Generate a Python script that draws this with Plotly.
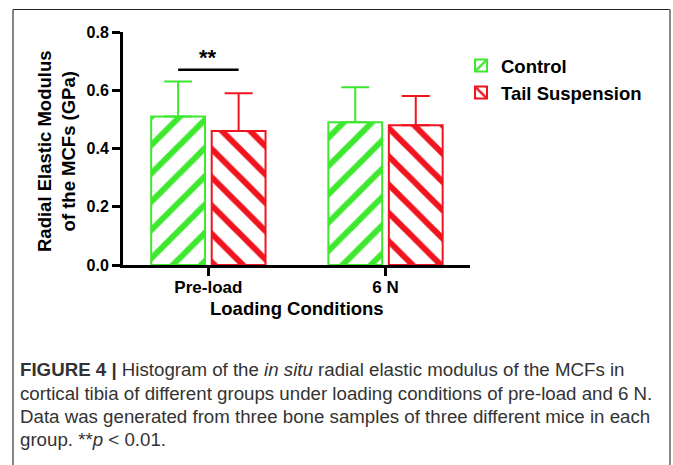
import plotly.graph_objects as go

# ---- data ----
categories = ["Pre-load", "6 N"]
series_names = ["Control", "Tail Suspension"]
control_mean = [0.51, 0.49]
control_err = [0.12, 0.12]
tail_mean = [0.46, 0.48]
tail_err = [0.13, 0.10]
y_ticks = [0.0, 0.2, 0.4, 0.6, 0.8]
sig_label = "**"
sig_y = 0.67

GREEN = "#3EE82E"
RED = "#F0141E"
FONT = "Liberation Sans, Arial, sans-serif"

# plot-area pixel geometry (673x465 canvas)
L, R, T, B = 123, 470, 32, 265
W, H = 673, 465
pw, ph = R - L, B - T

def px(x):
    return (x - L) / pw

def py(y):
    return (B - y) / ph

fig = go.Figure()
fig.add_trace(go.Bar(
    name=series_names[0], x=categories, y=control_mean, legendgroup="c",
    marker=dict(color="white", line=dict(color=GREEN, width=2),
                pattern=dict(shape="/", fgcolor=GREEN, bgcolor="white",
                             size=20, solidity=0.3, fillmode="replace")),
    error_y=dict(type="data", symmetric=False, array=control_err,
                 arrayminus=[0] * len(control_err), color=GREEN,
                 thickness=2, width=14),
))
fig.add_trace(go.Bar(
    name=series_names[1], x=categories, y=tail_mean, legendgroup="t",
    marker=dict(color="white", line=dict(color=RED, width=2),
                pattern=dict(shape="\\", fgcolor=RED, bgcolor="white",
                             size=20, solidity=0.3, fillmode="replace")),
    error_y=dict(type="data", symmetric=False, array=tail_err,
                 arrayminus=[0] * len(tail_err), color=RED,
                 thickness=2, width=14),
))

bargap = 0.317
slot = (1 - bargap) / 2
off = slot / 2

shapes = [
    # significance bar between the two pre-load bars
    dict(type="line", xref="x", yref="y", x0=0 - off, x1=0 + off,
         y0=sig_y, y1=sig_y, line=dict(color="black", width=2.5)),
    # frame
    dict(type="line", xref="paper", yref="paper", x0=px(13), x1=px(13),
         y0=py(9.5), y1=py(470), line=dict(color="#333333", width=1.2)),
    dict(type="line", xref="paper", yref="paper", x0=px(13), x1=px(670),
         y0=py(9.5), y1=py(9.5), line=dict(color="#222222", width=1.2)),
    dict(type="line", xref="paper", yref="paper", x0=px(670), x1=px(670),
         y0=py(9.5), y1=py(470), line=dict(color="#888888", width=2)),
]

annotations = [
    dict(text="<b>" + sig_label + "</b>", xref="x", yref="y", x=0, y=sig_y + 0.042,
         xanchor="center", yanchor="middle",
         showarrow=False, font=dict(family=FONT, size=22, color="black")),
    dict(text="<b>Radial Elastic Modulus<br>of the MCFs (GPa)</b>",
         xref="paper", yref="paper", x=px(56), y=py(151), textangle=-90,
         xanchor="center", yanchor="middle",
         showarrow=False, font=dict(family=FONT, size=18.5, color="black")),
    dict(text="<b>Loading Conditions</b>", xref="paper", yref="paper",
         x=px(296.5), y=py(308), xanchor="center", yanchor="middle",
         showarrow=False, font=dict(family=FONT, size=18.5, color="black")),
]

caption_lines = [
    "<b>FIGURE 4 |</b> Histogram of the <i>in situ</i> radial elastic modulus of the MCFs in",
    "cortical tibia of different groups under loading conditions of pre-load and 6 N.",
    "Data was generated from three bone samples of three different mice in each",
    "group. **<i>p</i> &lt; 0.01.",
]
caption_y = [369, 393, 417, 440]
for line, yy in zip(caption_lines, caption_y):
    annotations.append(dict(
        text=line, xref="paper", yref="paper", x=px(18), y=py(yy),
        xanchor="left", yanchor="middle", showarrow=False,
        font=dict(family=FONT, size=18.7, color="#333333")))

fig.update_layout(
    width=W, height=H,
    margin=dict(l=L, r=W - R, t=T, b=H - B, pad=0),
    paper_bgcolor="white", plot_bgcolor="white",
    barmode="group", bargap=bargap, bargroupgap=0.11,
    font=dict(family=FONT, color="black"),
    showlegend=True,
    legend=dict(x=px(461), y=py(47), xanchor="left", yanchor="top",
                font=dict(family=FONT, size=18.5, color="black", weight="bold"),
                bgcolor="rgba(0,0,0,0)", traceorder="grouped",
                tracegroupgap=0),
    shapes=shapes, annotations=annotations,
)
fig.update_xaxes(
    range=[-0.482, 1.477], showline=True, linewidth=3, linecolor="black",
    ticks="outside", ticklen=8, tickwidth=3, tickcolor="black",
    tickfont=dict(family=FONT, size=17, color="black", weight="bold"),
    ticklabelstandoff=-3,
    showgrid=False, zeroline=False,
)
fig.update_yaxes(
    range=[0, 0.8], tickvals=y_ticks, tickformat=".1f",
    showline=True, linewidth=3, linecolor="black",
    ticks="outside", ticklen=8, tickwidth=3, tickcolor="black",
    tickfont=dict(family=FONT, size=16, color="black", weight="bold"),
    showgrid=False, zeroline=False,
)

fig.write_html(
    "out.html",
    config={"displayModeBar": False},
    post_script="document.body.style.margin='0';document.body.style.overflow='hidden';",
)
